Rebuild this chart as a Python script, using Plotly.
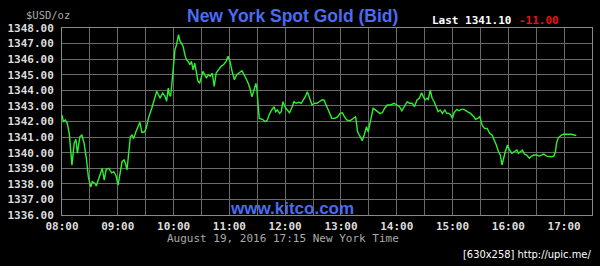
import plotly.graph_objects as go

# ---- data ----
minutes_after_8 = [0, 1.4, 3.5, 5.6, 7.8, 10.7, 13.1, 14.9, 16.6, 19.2, 21.3, 23.8, 26.2, 28.3, 30.9, 32.6, 35.5, 36.9,
    39.0, 41.1, 43.3, 45.4, 47.5, 50.4, 53.3, 55.7, 58.2, 60.3, 62.1, 64.6, 66.7, 68.2, 69.9, 71.7, 73.5, 75.2, 77.0,
    79.5, 81.6, 83.8, 85.9, 88.8, 90.6, 93.0, 96.6, 100.2, 101.9, 103.7, 105.5, 108.3, 110.8, 112.5, 114.3, 115.4,
    116.8, 117.9, 119.7, 121.5, 123.2, 125.3, 126.8, 128.5, 130.3, 132.1, 133.9, 135.7, 137.5, 139.2, 141.0, 142.8,
    144.5, 146.3, 148.1, 149.8, 151.6, 153.5, 155.2, 157.3, 159.4, 161.6, 163.7, 165.8, 168.7, 171.1, 173.7, 176.5,
    178.6, 180.7, 182.9, 185.4, 187.9, 190.8, 193.5, 196.0, 199.6, 202.1, 204.2, 206.0, 208.5, 209.5, 211.0, 212.1,
    215.6, 218.5, 220.9, 222.7, 225.5, 228.1, 229.8, 231.6, 234.0, 235.8, 237.6, 239.8, 242.2, 244.7, 247.6, 249.4,
    251.8, 254.7, 257.2, 259.6, 261.7, 263.9, 266.0, 268.9, 271.8, 274.2, 276.7, 279.5, 281.7, 283.8, 286.7, 290.2,
    293.7, 296.6, 299.0, 301.6, 303.7, 306.2, 309.7, 313.3, 315.8, 317.9, 320.3, 322.9, 325.0, 327.5, 329.3, 332.1,
    334.6, 338.1, 341.7, 344.5, 347.0, 349.9, 353.4, 357.0, 360.5, 363.0, 365.5, 368.3, 371.2, 373.6, 376.5, 379.0,
    381.8, 384.3, 386.8, 388.6, 390.4, 392.5, 393.9, 396.0, 398.1, 400.3, 402.8, 404.5, 406.7, 409.2, 411.7, 413.8,
    416.3, 418.1, 419.9, 421.6, 424.5, 426.9, 429.5, 432.2, 435.9, 439.4, 442.9, 444.7, 447.2, 449.3, 451.9, 454.3,
    457.2, 460.0, 462.5, 465.0, 467.1, 469.5, 471.4, 473.2, 474.9, 476.7, 479.1, 481.3, 483.8, 486.3, 489.2, 490.9,
    492.7, 495.1, 497.3, 499.8, 502.6, 505.1, 507.6, 510.5, 513.2, 515.8, 518.2, 521.1, 523.9, 526.5, 528.9, 530.7,
    531.8, 533.5, 536.0, 538.9, 542.4, 547.8, 553.1]
bid_price = [1342.42, 1342.0, 1342.1, 1341.9, 1341.24, 1339.2, 1340.6, 1340.86, 1339.96, 1341.02, 1341.13, 1340.6,
    1339.64, 1338.46, 1337.8, 1338.14, 1338.03, 1337.86, 1338.24, 1338.67, 1339.0, 1338.24, 1338.93, 1339.0, 1338.71,
    1338.78, 1338.5, 1337.92, 1338.46, 1339.42, 1339.53, 1339.32, 1338.89, 1340.06, 1341.02, 1341.13, 1340.9, 1341.34,
    1341.62, 1341.95, 1341.3, 1341.34, 1341.58, 1342.22, 1342.87, 1343.5, 1343.94, 1343.72, 1343.5, 1343.83, 1343.62,
    1343.3, 1344.15, 1343.72, 1343.62, 1344.26, 1345.64, 1346.61, 1346.93, 1347.57, 1347.19, 1347.04, 1346.82,
    1346.29, 1345.97, 1345.86, 1345.64, 1345.86, 1345.32, 1345.75, 1345.11, 1344.58, 1344.47, 1344.79, 1345.22,
    1345.0, 1344.79, 1345.0, 1344.9, 1345.11, 1344.26, 1345.11, 1345.32, 1345.54, 1345.64, 1345.86, 1346.18, 1345.86,
    1345.22, 1344.68, 1345.0, 1345.11, 1345.26, 1344.98, 1344.55, 1344.13, 1343.59, 1343.91, 1344.45, 1344.13,
    1343.17, 1342.2, 1342.14, 1341.99, 1342.1, 1342.42, 1342.74, 1342.95, 1342.63, 1342.74, 1342.52, 1342.63, 1343.27,
    1342.95, 1342.74, 1342.56, 1342.95, 1343.27, 1343.17, 1343.23, 1343.17, 1343.38, 1343.59, 1343.91, 1343.49,
    1343.06, 1343.17, 1343.17, 1343.27, 1343.38, 1343.38, 1343.06, 1342.63, 1342.2, 1342.2, 1342.31, 1342.52, 1342.56,
    1342.31, 1342.1, 1342.05, 1342.2, 1342.31, 1341.34, 1341.02, 1340.77, 1341.13, 1341.66, 1341.34, 1342.1, 1342.85,
    1342.7, 1342.52, 1342.56, 1342.85, 1343.06, 1343.06, 1343.17, 1343.06, 1342.95, 1342.69, 1343.0, 1343.27, 1343.17,
    1343.17, 1342.95, 1343.38, 1343.49, 1343.85, 1343.59, 1343.38, 1343.49, 1343.42, 1344.02, 1343.49, 1343.27,
    1342.95, 1342.63, 1342.74, 1342.52, 1342.74, 1342.52, 1342.52, 1342.42, 1342.2, 1342.56, 1342.78, 1342.69,
    1342.78, 1342.78, 1342.63, 1342.52, 1342.31, 1342.14, 1342.2, 1342.31, 1341.77, 1341.56, 1341.56, 1341.24,
    1341.13, 1340.81, 1340.49, 1340.06, 1339.85, 1339.21, 1339.64, 1340.06, 1340.49, 1340.17, 1339.96, 1340.06,
    1340.17, 1339.96, 1340.06, 1340.17, 1339.91, 1339.85, 1339.64, 1339.78, 1339.85, 1339.85, 1339.78, 1339.85,
    1339.91, 1339.78, 1339.74, 1339.74, 1339.78, 1340.06, 1340.6, 1340.92, 1341.07, 1341.18, 1341.18, 1341.18, 1341.10]

grid_minutes = list(range(0, 571, 30))
hour_labels = ["08:00", "09:00", "10:00", "11:00", "12:00", "13:00", "14:00", "15:00", "16:00", "17:00"]
y_ticks = list(range(1336, 1349))
last_price = 1341.10
change = -11.00
title_text = "New York Spot Gold (Bid)"
unit_text = "$USD/oz"
site_text = "www.kitco.com"
date_text = "August 19, 2016 17:15 New York Time"
stamp_text = "[630x258] http://upic.me/"

# ---- figure ----
W, H = 600, 266
L, R, T, B = 58, 7, 28, 51
pw, ph = W - L - R, H - T - B

def px(x):
    return (x - L) / pw

def py(y):
    return (H - B - y) / ph

tick_text = []
for m in grid_minutes:
    tick_text.append(hour_labels[m // 60] if m % 60 == 0 and m // 60 < len(hour_labels) else "")

fig = go.Figure(go.Scatter(x=minutes_after_8, y=bid_price, mode="lines",
                           line=dict(color="#2ef02e", width=1.4), hoverinfo="skip"))

grid = "#6a6a6a"
mono = "DejaVu Sans Mono"
fig.update_layout(
    width=W, height=H, margin=dict(l=L, r=R, t=T, b=B),
    paper_bgcolor="black", plot_bgcolor="black", showlegend=False,
    xaxis=dict(range=[0, 570], tickmode="array", tickvals=grid_minutes, ticktext=tick_text,
               showgrid=True, gridcolor=grid, gridwidth=1, zeroline=False,
               showline=True, linecolor="#8a8a8a", mirror=True, ticks="",
               tickfont=dict(family=mono, size=11, color="#dddddd", weight="bold"),
               ticklabelstandoff=1),
    yaxis=dict(range=[1336, 1348], tickmode="array", tickvals=y_ticks,
               ticktext=[f"{v:.2f}" for v in y_ticks],
               showgrid=True, gridcolor=grid, gridwidth=1, zeroline=False,
               showline=True, linecolor="#8a8a8a", mirror=True, ticks="",
               tickfont=dict(family=mono, size=11, color="#dddddd", weight="bold"),
               ticklabelstandoff=5),
)

ann = []
ann.append(dict(text=f"<b>{title_text}</b>", x=px(291), y=py(16), font=dict(family="Liberation Sans", size=17.5, color="#4a6cf0")))
ann.append(dict(text=unit_text, x=px(20), y=py(15), xanchor="left", font=dict(family=mono, size=10.5, color="#aaaaaa")))
ann.append(dict(text=f"<b>Last {last_price:.2f}</b>", x=px(429), y=py(20), xanchor="left", font=dict(family=mono, size=11, color="white")))
ann.append(dict(text=f"<b>{change:.2f}</b>", x=px(517), y=py(20), xanchor="left", font=dict(family=mono, size=11, color="#ee1111")))
ann.append(dict(text=f"<b>{site_text}</b>", x=px(290.5), y=py(208), font=dict(family="Liberation Sans", size=17, color="#4a6cf0")))
ann.append(dict(text=date_text, x=px(281), y=py(238.5), font=dict(family=mono, size=11, color="#aaaaaa")))
ann.append(dict(text=stamp_text, x=px(594), y=py(254), xanchor="right", font=dict(family="DejaVu Sans Condensed", size=11, color="white")))
for a in ann:
    a.update(xref="paper", yref="paper", showarrow=False)
    a.setdefault("xanchor", "center")
    a["yanchor"] = "middle"
fig.update_layout(annotations=ann)

fig.write_html("out.html")
